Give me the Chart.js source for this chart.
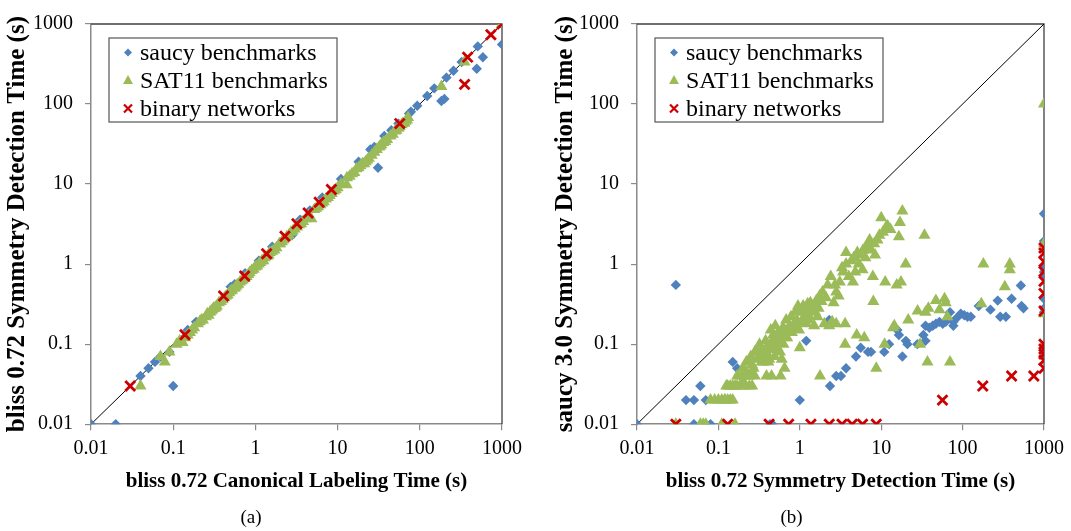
<!DOCTYPE html>
<html>
<head>
<meta charset="utf-8">
<script src="https://cdn.jsdelivr.net/npm/chart.js@4.4.0/dist/chart.umd.min.js"></script>
<style>
  body { margin: 0; background: #fff; }
  #wrap { position: relative; width: 1071px; height: 531px; }
  .box { position: absolute; top: 0; height: 531px; }
</style>
</head>
<body>
<div id="wrap">
  <div class="box" style="left:0;width:535px"><canvas id="chartA"></canvas></div>
  <div class="box" style="left:535px;width:536px"><canvas id="chartB"></canvas></div>
</div>
<script>
// axis ticks (both plots, both axes)
const tickVals = [0.01, 0.1, 1, 10, 100, 1000];
const tickLabels = ["0.01", "0.1", "1", "10", "100", "1000"];
const seriesNames = ["saucy benchmarks", "SAT11 benchmarks", "binary networks"];
const diagX = [0.01, 1000];
const diagY = [0.01, 1000];

// (a) bliss canonical labeling vs bliss symmetry detection
const saucyAx = [0.01, 0.02, 0.1, 0.04, 0.05, 0.06, 0.07, 0.09, 0.15, 0.19, 0.5, 0.56, 0.75, 1.1, 1.6, 2.8, 3.5, 4.6, 6.5, 11, 18, 25, 28, 31, 37, 45, 55, 74, 78, 93, 123, 150, 183, 199, 211, 257, 323, 493, 507, 585, 1000, 1000];
const saucyAy = [0.01, 0.01, 0.03, 0.04, 0.05, 0.06, 0.07, 0.08, 0.15, 0.19, 0.52, 0.56, 0.77, 1.1, 1.65, 2.3, 3.6, 4.7, 6.8, 11.6, 19, 27, 29, 16, 40, 47, 57, 76, 80, 95, 126, 157, 109, 116, 214, 261, 335, 276, 525, 385, 556, 1000];
const satAx = [0.04, 0.07, 0.079, 0.09, 0.11, 0.12, 0.13, 0.15, 0.16, 0.18, 0.2, 0.21, 0.23, 0.25, 0.26, 0.28, 0.3, 0.32, 0.34, 0.36, 0.4, 0.44, 0.48, 0.52, 0.56, 0.6, 0.65, 0.7, 0.78, 0.85, 0.9, 1.0, 1.1, 1.2, 1.3, 1.45, 1.6, 1.8, 1.95, 2.1, 2.4, 2.7, 3.0, 3.4, 3.8, 4.1, 4.8, 5.2, 5.8, 6.5, 7.2, 8, 9, 10, 11, 12.9, 13, 15, 17, 19, 21, 23, 28, 30, 33, 36, 40, 47, 50, 55, 60, 65, 70, 72, 183, 350, 1000,
  0.14, 0.17, 0.22, 0.27, 0.29, 0.31, 0.33, 0.38, 0.42, 0.46, 0.5, 0.58, 0.62, 0.68, 0.74, 0.82, 0.95, 1.05, 1.15, 1.25, 1.4, 1.5, 1.7, 2.0, 2.2, 2.55, 2.85, 3.2, 3.6, 4.4, 5.5, 6.2, 6.8, 7.6, 8.5, 9.5, 14, 16, 18, 20, 22, 24, 26, 32, 34, 38, 44, 52, 57, 62, 67];
const satAy = [0.03, 0.07, 0.06, 0.08, 0.1, 0.11, 0.105, 0.13, 0.14, 0.16, 0.18, 0.19, 0.2, 0.22, 0.24, 0.25, 0.27, 0.28, 0.3, 0.33, 0.36, 0.4, 0.44, 0.47, 0.5, 0.55, 0.6, 0.64, 0.7, 0.78, 0.83, 0.92, 1.0, 1.1, 1.2, 1.3, 1.45, 1.6, 1.8, 1.9, 2.2, 2.5, 2.75, 3.1, 3.4, 3.7, 3.7, 4.8, 5.2, 5.8, 6.5, 7.2, 8.2, 9, 10, 9.8, 12, 13.5, 15.5, 17, 18, 20, 25, 27, 30, 33, 36, 42, 46, 50, 55, 58, 63, 68, 166, 335, 1000,
  0.12, 0.15, 0.2, 0.23, 0.26, 0.28, 0.29, 0.34, 0.38, 0.41, 0.46, 0.52, 0.56, 0.62, 0.66, 0.74, 0.86, 0.95, 1.05, 1.1, 1.25, 1.4, 1.5, 1.8, 2.0, 2.3, 2.6, 2.9, 3.2, 4.0, 5.0, 5.5, 6.0, 6.8, 7.6, 8.5, 12.5, 14, 16, 18, 19, 21, 23, 29, 31, 34, 40, 47, 52, 57, 61];
const binAx = [0.03, 0.139, 0.41, 0.74, 1.37, 2.29, 3.2, 4.38, 5.97, 8.4, 57, 351, 382, 733, 1000];
const binAy = [0.03, 0.131, 0.4, 0.71, 1.35, 2.23, 3.2, 4.36, 5.94, 8.55, 57, 176, 385, 735, 1000];

// (b) bliss symmetry detection vs saucy 3.0 symmetry detection
const saucyBx = [0.01, 0.03, 0.04, 0.05, 0.06, 0.07, 0.05, 0.08, 0.15, 0.17, 0.43, 0.46, 1.0, 1.2, 2.3, 2.35, 2.8, 3.2, 3.7, 4.9, 5.6, 6.9, 7.5, 10.9, 12.5, 15.8, 16.5, 18.2, 20.1, 21, 27.8, 33, 35, 35, 39, 43, 47, 52, 57, 62, 70, 77, 77, 84, 95, 105, 115, 126, 158, 220, 270, 290, 340, 400, 520, 530, 560, 1000, 1000, 1000, 1000, 1000, 1000, 1000, 1000, 1000, 1000];
const saucyBy = [0.01, 0.55, 0.02, 0.02, 0.03, 0.02, 0.01, 0.01, 0.06, 0.05, 0.01, 0.01, 0.02, 0.11, 0.2, 0.03, 0.04, 0.04, 0.05, 0.07, 0.09, 0.08, 0.08, 0.08, 0.1, 0.15, 0.13, 0.07, 0.11, 0.1, 0.1, 0.13, 0.11, 0.17, 0.16, 0.17, 0.18, 0.19, 0.18, 0.19, 0.25, 0.19, 0.17, 0.21, 0.24, 0.23, 0.22, 0.22, 0.3, 0.27, 0.35, 0.22, 0.22, 0.37, 0.54, 0.3, 0.28, 4.25, 1.94, 0.91, 0.8, 0.7, 0.37, 0.28, 0.25, 0.085, 0.07];
const satBx = [0.03, 0.06, 0.065, 0.07, 0.11, 0.16,
  0.08, 0.09, 0.1, 0.11, 0.12, 0.13, 0.14, 0.15,
  0.13, 0.14, 0.15, 0.16, 0.17, 0.19, 0.21, 0.24, 0.26,
  0.17, 0.19, 0.21, 0.24, 0.28, 0.39, 0.45, 0.58,
  0.2, 0.22, 0.24, 0.26, 0.28, 0.3, 0.33, 0.35, 0.36, 0.39, 0.4, 0.42, 0.44, 0.45, 0.46, 0.48, 0.5, 0.5, 0.52, 0.55, 0.57, 0.6, 0.6, 0.63, 0.65, 0.65, 0.7, 0.75, 0.8, 0.85, 0.9, 0.95, 1.0, 1.05, 1.1, 1.15, 1.2, 1.3, 1.35, 1.4, 1.5, 1.55, 1.7, 1.75, 1.77, 1.85, 2.0, 2.2, 2.3, 2.4, 2.5, 2.6, 2.8, 2.8, 3.0, 3.1, 3.4, 3.6, 3.6, 3.7, 3.7, 4.0, 4.3, 4.8, 5.0, 5.3, 5.6, 5.9, 6.2, 6.5, 6.9, 7.5, 7.9, 8.0, 8.4, 8.7, 9.0, 10, 10.5, 11, 11.2, 11.5, 13, 14, 14.5, 15.5, 16.5, 17, 17.5, 18.2, 20, 21.5, 28, 30, 34, 35, 37, 38, 47, 52, 60, 62, 65, 70, 170, 180, 330, 380, 380, 1000, 1000, 1000,
  0.22, 0.25, 0.27, 0.3, 0.32, 0.34, 0.37, 0.38, 0.41, 0.43, 0.47, 0.49, 0.53, 0.54, 0.58, 0.62, 0.66, 0.68, 0.72, 0.78, 0.82, 0.88, 0.92, 0.98, 1.02, 1.08, 1.12, 1.18, 1.25, 1.28, 1.33, 1.45, 1.6, 1.65, 1.9, 2.1, 2.7, 3.3, 4.5, 4.6, 5.1, 6.0, 6.4, 7.0, 7.2, 8.2, 9.5, 12, 0.12, 0.125, 0.2, 0.23, 0.26];
const satBy = [0.01, 0.01, 0.01, 0.01, 0.01, 0.01,
  0.02, 0.02, 0.02, 0.02, 0.02, 0.02, 0.02, 0.02,
  0.03, 0.03, 0.03, 0.03, 0.03, 0.03, 0.03, 0.03, 0.03,
  0.04, 0.04, 0.04, 0.04, 0.04, 0.04, 0.04, 0.04,
  0.05, 0.045, 0.06, 0.055, 0.08, 0.065, 0.08, 0.07, 0.06, 0.09, 0.075, 0.065, 0.15, 0.1, 0.11, 0.085, 0.1, 0.17, 0.12, 0.12, 0.08, 0.065, 0.13, 0.1, 0.05, 0.15, 0.12, 0.17, 0.14, 0.16, 0.18, 0.3, 0.09, 0.19, 0.3, 0.22, 0.18, 0.22, 0.33, 0.26, 0.17, 0.25, 0.28, 0.4, 0.04, 0.34, 0.18, 0.55, 0.17, 0.7, 0.19, 0.33, 0.45, 0.18, 0.4, 0.6, 0.8, 0.1, 0.18, 1.4, 1.0, 0.7, 1.1, 0.8, 0.13, 1.0, 1.3, 0.85, 0.12, 1.6, 1.8, 1.5, 0.7, 0.34, 1.3, 0.05, 2.0, 3.8, 2.5, 0.1, 0.6, 2.9, 2.7, 0.16, 0.17, 0.55, 2.2, 3.3, 0.6, 4.6, 1.0, 0.2, 0.26, 0.1, 2.3, 0.25, 0.06, 0.28, 0.35, 0.27, 0.37, 0.33, 0.22, 0.06, 0.32, 1.0, 0.52, 1.0, 0.85, 100, 0.24, 1.8,
  0.06, 0.07, 0.05, 0.08, 0.1, 0.06, 0.08, 0.11, 0.06, 0.09, 0.13, 0.07, 0.09, 0.14, 0.11, 0.16, 0.12, 0.2, 0.14, 0.22, 0.17, 0.25, 0.2, 0.15, 0.26, 0.2, 0.28, 0.25, 0.32, 0.2, 0.27, 0.3, 0.35, 0.22, 0.45, 0.38, 0.55, 0.9, 0.6, 1.2, 1.4, 1.5, 1.2, 1.6, 2.0, 1.8, 2.3, 3.0, 0.02, 0.03, 0.035, 0.04, 0.045];
const binBx = [0.03, 0.13, 0.42, 0.73, 1.37, 2.3, 3.3, 4.4, 5.9, 8.7, 56.6, 177, 400, 750, 1000, 1000, 1000, 1000, 1000, 1000, 1000, 1000, 1000, 1000, 1000, 1000];
const binBy = [0.01, 0.01, 0.01, 0.01, 0.01, 0.01, 0.01, 0.01, 0.01, 0.01, 0.02, 0.03, 0.04, 0.04, 1.59, 1.38, 1.07, 0.81, 0.61, 0.43, 0.26, 0.1, 0.087, 0.075, 0.063, 0.05];

const SERIF = '"Liberation Serif", serif';
const BLUE = '#4F81BD', GREEN = '#9BBB59', RED = '#CC0000';

const pts = (xs, ys) => xs.map((x, i) => ({ x: x, y: ys[i] }));

// small marker drawing for the boxed legend
function marker(ctx, kind, x, y) {
  ctx.beginPath();
  if (kind === 0) {
    ctx.fillStyle = BLUE;
    ctx.moveTo(x - 4, y); ctx.lineTo(x, y - 4); ctx.lineTo(x + 4, y); ctx.lineTo(x, y + 4);
    ctx.closePath(); ctx.fill();
  } else if (kind === 1) {
    ctx.fillStyle = GREEN;
    ctx.moveTo(x, y - 5.5); ctx.lineTo(x + 5, y + 3.5); ctx.lineTo(x - 5, y + 3.5);
    ctx.closePath(); ctx.fill();
  } else {
    ctx.strokeStyle = RED; ctx.lineWidth = 2.2;
    ctx.moveTo(x - 4, y - 4); ctx.lineTo(x + 4, y + 4);
    ctx.moveTo(x + 4, y - 4); ctx.lineTo(x - 4, y + 4);
    ctx.stroke();
  }
}

const framePlugin = {
  id: 'frame',
  beforeDatasetsDraw(chart) {
    const { ctx, chartArea: a } = chart;
    ctx.save();
    ctx.strokeStyle = '#404040';
    ctx.lineWidth = 1.3;
    ctx.beginPath();
    ctx.moveTo(a.left, a.top); ctx.lineTo(a.right, a.top); ctx.lineTo(a.right, a.bottom);
    ctx.stroke();
    ctx.restore();
  },
  afterDatasetsDraw(chart) {
    const { ctx, chartArea: a } = chart;
    const x0 = a.left + 18, y0 = a.top + 14, w = 228, h = 84;
    ctx.save();
    ctx.fillStyle = '#fff';
    ctx.fillRect(x0, y0, w, h);
    ctx.strokeStyle = '#555';
    ctx.lineWidth = 1.2;
    ctx.strokeRect(x0, y0, w, h);
    ctx.font = '24px ' + SERIF;
    ctx.textBaseline = 'middle';
    seriesNames.forEach((name, i) => {
      const cy = y0 + 14.5 + i * 28;
      marker(ctx, i, x0 + 19, cy);
      ctx.fillStyle = '#000';
      ctx.fillText(name, x0 + 31, cy + 1);
    });
    ctx.restore();
  }
};

function logAxis(title, size, pad, tickPad, fit) {
  return {
    type: 'logarithmic',
    min: 0.01,
    max: 1000,
    afterBuildTicks: s => { s.ticks = tickVals.map(v => ({ value: v })); },
    afterFit: fit,
    ticks: {
      autoSkip: false,
      maxRotation: 0,
      color: '#000',
      padding: tickPad,
      font: { family: SERIF, size: 20 },
      callback: (v, i) => tickLabels[i]
    },
    grid: { drawOnChartArea: false, drawTicks: true, tickLength: 6, color: '#8a8a8a', lineWidth: 1.2 },
    border: { display: true, color: '#8a8a8a', width: 1.5 },
    title: {
      display: true,
      text: title,
      color: '#000',
      padding: pad,
      font: { family: SERIF, size: size, weight: 'bold' }
    }
  };
}

function makeChart(id, caption, xTitle, yTitle, data, yWidth, yTitlePad, rightPad) {
  return new Chart(document.getElementById(id), {
    type: 'scatter',
    data: {
      datasets: [
        { label: seriesNames[2], data: data[2], order: 0, pointStyle: 'crossRot', pointRadius: 7, borderColor: RED, backgroundColor: RED, borderWidth: 2.8 },
        { label: seriesNames[1], data: data[1], order: 1, pointStyle: 'triangle', pointRadius: 7, borderWidth: 0, backgroundColor: GREEN, borderColor: GREEN },
        { label: seriesNames[0], data: data[0], order: 2, pointStyle: 'rectRot', pointRadius: 5.2, borderWidth: 0, backgroundColor: BLUE, borderColor: BLUE },
        { type: 'line', label: 'diag', data: pts(diagX, diagY), order: 3, borderColor: '#000', borderWidth: 1, pointRadius: 0 }
      ]
    },
    options: {
      responsive: true,
      maintainAspectRatio: false,
      animation: false,
      events: [],
      layout: { padding: { top: 12.5, right: rightPad, left: 0, bottom: 2 } },
      scales: {
        x: logAxis(xTitle, 21, { top: 0, bottom: 0 }, 7, s => { s.height = 70; }),
        y: logAxis(yTitle, 25, { top: yTitlePad, bottom: 0 }, 12, s => { s.width = yWidth; })
      },
      plugins: {
        legend: { display: false },
        tooltip: { enabled: false },
        title: {
          display: true,
          text: caption,
          position: 'bottom',
          color: '#000',
          padding: { top: 12, bottom: 0 },
          font: { family: SERIF, size: 19, weight: 'normal' }
        }
      }
    },
    plugins: [framePlugin]
  });
}

makeChart('chartA', '(a)', 'bliss 0.72 Canonical Labeling Time (s)', 'bliss 0.72 Symmetry Detection Time (s)',
  [pts(saucyAx, saucyAy), pts(satAx, satAy), pts(binAx, binAy)], 91, 3, 33);
makeChart('chartB', '(b)', 'bliss 0.72 Symmetry Detection Time (s)', 'saucy 3.0 Symmetry Detection Time (s)',
  [pts(saucyBx, saucyBy), pts(satBx, satBy), pts(binBx, binBy)], 102, 15.5, 23);
</script>
</body>
</html>
